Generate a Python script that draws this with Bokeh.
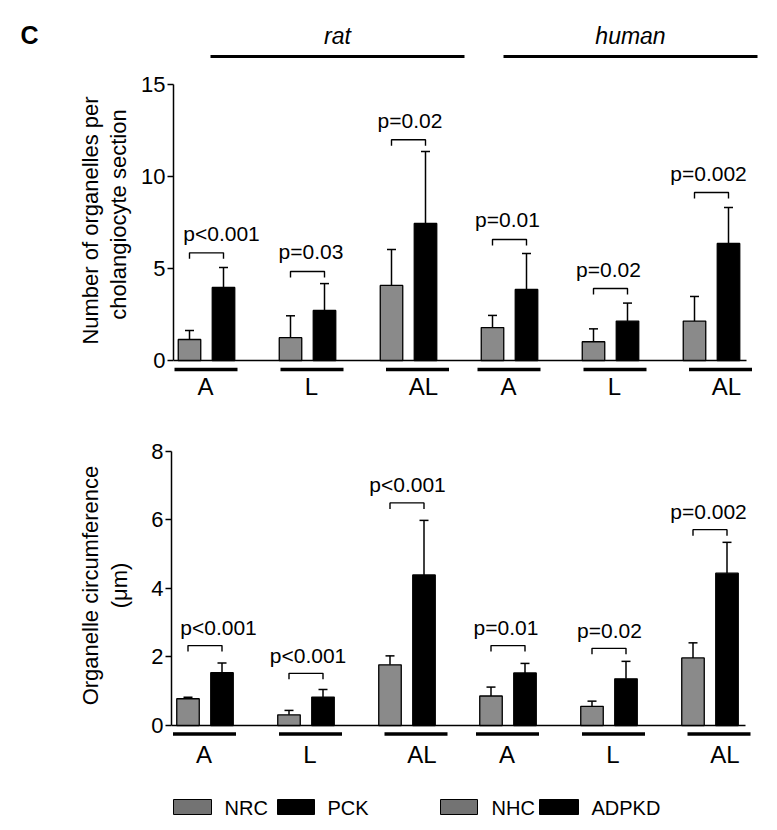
import numpy as np
from bokeh.plotting import figure
from bokeh.models import Range1d, FixedTicker, ColumnDataSource
from bokeh.layouts import column, row
from bokeh.embed import file_html
from bokeh.resources import INLINE
from bokeh.core.properties import value

# ---------------- data ----------------
group_labels = ["A", "L", "AL", "A", "L", "AL"]
species = ["rat", "human"]
legend_rat = ["NRC", "PCK"]
legend_human = ["NHC", "ADPKD"]
panel_letter = "C"

# number of organelles per cholangiocyte section
count_title = ["Number of organelles per", "cholangiocyte section"]
count_ctrl_mean = [1.14, 1.24, 4.08, 1.79, 1.02, 2.14]
count_ctrl_sd = [0.49, 1.19, 1.95, 0.66, 0.70, 1.34]
count_cyst_mean = [3.97, 2.72, 7.45, 3.86, 2.14, 6.36]
count_cyst_sd = [1.08, 1.46, 3.91, 1.95, 0.98, 1.96]
count_p = ["p<0.001", "p=0.03", "p=0.02", "p=0.01", "p=0.02", "p=0.002"]
count_bracket = [5.85, 4.84, 12.0, 6.58, 3.91, 9.13]
count_ticks = [0, 5, 10, 15]

# organelle circumference (um)
circ_title = ["Organelle circumference", "(\u03bcm)"]
circ_ctrl_mean = [0.78, 0.31, 1.77, 0.86, 0.56, 1.97]
circ_ctrl_sd = [0.04, 0.13, 0.26, 0.26, 0.15, 0.44]
circ_cyst_mean = [1.54, 0.83, 4.39, 1.53, 1.36, 4.44]
circ_cyst_sd = [0.28, 0.22, 1.59, 0.28, 0.51, 0.90]
circ_p = ["p<0.001", "p<0.001", "p<0.001", "p=0.01", "p=0.02", "p=0.002"]
circ_bracket = [2.33, 1.52, 6.49, 2.33, 2.25, 5.71]
circ_ticks = [0, 2, 4, 6, 8]

# ---------------- style / layout ----------------
FONT = "Liberation Sans"
TOTAL_W = 775
LW = 135                      # width of the left strip holding the y titles
GROUP_PX = 101.0
BAR_DX = 17.0 / GROUP_PX
BAR_W = 22.5 / GROUP_PX
GRAY = "#8a8a8a"
LEG_GRAY = "#737373"
UNDER_SHIFT = {"A": -0.5, "L": 4.5, "AL": 9.0}
LABEL_SHIFT = {"A": -1.0, "L": 4.0, "AL": 15.0}


def bare(fig):
    fig.outline_line_color = None
    fig.grid.visible = False
    fig.background_fill_color = "white"
    fig.border_fill_color = "white"
    return fig


def title_strip(top, bottom, lines, letter=None):
    """Left strip (pixel coordinates, y = -image_y) with the rotated y-axis title."""
    f = bare(figure(width=LW, height=bottom - top, output_backend="svg", toolbar_location=None,
                    x_range=Range1d(0, LW), y_range=Range1d(-bottom, -top),
                    x_axis_type=None, y_axis_type=None,
                    min_border_left=0, min_border_right=0, min_border_top=0, min_border_bottom=0))
    f.text(x=[x for _, x, _ in lines], y=[-y for _, _, y in lines], text=[t for t, _, _ in lines],
           angle=90, angle_units="deg",
           text_font=value(FONT), text_font_size="22px", text_color="black",
           text_align="center", text_baseline="middle")
    if letter:
        f.text(x=[29], y=[-34], text=[letter], text_font=value(FONT), text_font_size="25px",
               text_font_style="bold", text_color="black", text_align="center", text_baseline="middle")
    return f


def make_panel(top, bottom, axis_x, g0, zero, ppu, ticks, ctrl_m, ctrl_sd, cyst_m, cyst_sd,
               brk, ptxt, ptxt_dx, p_gap, base_end, under_y, lab_mid):
    k = GROUP_PX
    xd = lambda px: (px - g0) / k
    yd = lambda py: (zero - py) / ppu
    p = bare(figure(width=TOTAL_W - LW, height=bottom - top, output_backend="svg",
                    toolbar_location=None,
                    x_range=Range1d(xd(axis_x), xd(TOTAL_W)),
                    y_range=Range1d(yd(bottom), yd(top)),
                    x_axis_type=None,
                    min_border_left=axis_x - LW, min_border_right=0,
                    min_border_top=0, min_border_bottom=0))

    ax = p.yaxis[0]
    ax.ticker = FixedTicker(ticks=ticks)
    ax.bounds = (0, ticks[-1])
    ax.major_tick_out = 6
    ax.major_tick_in = 0
    ax.minor_tick_line_color = None
    ax.axis_line_width = 1.5
    ax.major_tick_line_width = 1.5
    ax.major_label_text_font = FONT
    ax.major_label_text_font_size = "22px"
    ax.major_label_text_color = "black"
    ax.major_label_standoff = 2

    idx = np.arange(len(ctrl_m))
    xc = idx - BAR_DX
    xb = idx + BAR_DX
    src = ColumnDataSource(dict(
        xc=xc, xb=xb,
        cm=ctrl_m, ce=np.array(ctrl_m) + np.array(ctrl_sd),
        bm=cyst_m, be=np.array(cyst_m) + np.array(cyst_sd)))

    # x baseline
    p.segment(x0=[xd(axis_x)], y0=[0], x1=[xd(base_end)], y1=[0], line_color="black", line_width=1.5)

    # error bars (upper only)
    p.segment(x0="xc", y0="cm", x1="xc", y1="ce", source=src, line_color="black", line_width=1.5)
    p.segment(x0="xb", y0="bm", x1="xb", y1="be", source=src, line_color="black", line_width=1.5)
    p.scatter(x="xc", y="ce", source=src, marker="dash", size=9, line_color="black", line_width=1.5)
    p.scatter(x="xb", y="be", source=src, marker="dash", size=9, line_color="black", line_width=1.5)

    # bars
    p.vbar(x="xc", top="cm", bottom=0, width=BAR_W, source=src,
           fill_color=GRAY, line_color="black", line_width=1.3)
    p.vbar(x="xb", top="bm", bottom=0, width=BAR_W, source=src,
           fill_color="black", line_color="black", line_width=1.3)

    # significance brackets
    tick = 6.0 / ppu
    xs = [[a, a, b, b] for a, b in zip(xc, xb)]
    ys = [[y - tick, y, y, y - tick] for y in brk]
    p.multi_line(xs=xs, ys=ys, line_color="black", line_width=1.4)
    p.text(x=idx + np.array(ptxt_dx) / k, y=np.array(brk) + p_gap / ppu, text=ptxt,
           text_font=value(FONT), text_font_size="21px", text_color="black",
           text_align="center", text_baseline="middle")

    # group underlines and labels
    us = np.array([UNDER_SHIFT[g] for g in group_labels])
    ls = np.array([LABEL_SHIFT[g] for g in group_labels])
    p.segment(x0=idx + (us - 31.5) / k, y0=[yd(under_y)] * 6,
              x1=idx + (us + 31.5) / k, y1=[yd(under_y)] * 6,
              line_color="black", line_width=3.5)
    p.text(x=idx + ls / k, y=[yd(lab_mid)] * 6, text=group_labels,
           text_font=value(FONT), text_font_size="24px", text_color="black",
           text_align="center", text_baseline="middle")
    return p, xd, yd


# ---- panel 1: organelle count ----
p1, xd1, yd1 = make_panel(
    top=0, bottom=400, axis_x=173, g0=206, zero=360, ppu=18.4, ticks=count_ticks,
    ctrl_m=count_ctrl_mean, ctrl_sd=count_ctrl_sd, cyst_m=count_cyst_mean, cyst_sd=count_cyst_sd,
    brk=count_bracket, ptxt=count_p, ptxt_dx=[15, 3.5, 1.5, -2, -2, -3], p_gap=19.5,
    base_end=746, under_y=369, lab_mid=385.5)

# header: species labels and lines
p1.text(x=[xd1(337), xd1(630)], y=[yd1(35)] * 2, text=species,
        text_font=value(FONT), text_font_size="23px", text_font_style="italic",
        text_color="black", text_align="center", text_baseline="middle")
p1.segment(x0=[xd1(210), xd1(503)], y0=[yd1(56)] * 2, x1=[xd1(464), xd1(757)], y1=[yd1(56)] * 2,
           line_color="black", line_width=3)

t1 = title_strip(0, 400, [(count_title[0], 89.5, 220), (count_title[1], 117.5, 214)], letter=panel_letter)

# ---- panel 2: organelle circumference ----
p2, xd2, yd2 = make_panel(
    top=400, bottom=772, axis_x=171, g0=204.5, zero=725, ppu=34.3, ticks=circ_ticks,
    ctrl_m=circ_ctrl_mean, ctrl_sd=circ_ctrl_sd, cyst_m=circ_cyst_mean, cyst_sd=circ_cyst_sd,
    brk=circ_bracket, ptxt=circ_p, ptxt_dx=[13.5, 2, 0.5, -2, 0.5, -1.5], p_gap=18,
    base_end=745, under_y=733.5, lab_mid=753.5)

t2 = title_strip(400, 772, [(circ_title[0], 89.5, 585), (circ_title[1], 118.5, 585)])

# ---- legend strip ----
leg = bare(figure(width=TOTAL_W, height=54, output_backend="svg", toolbar_location=None,
                  x_range=Range1d(0, TOTAL_W), y_range=Range1d(-826, -772),
                  x_axis_type=None, y_axis_type=None,
                  min_border_left=0, min_border_right=0, min_border_top=0, min_border_bottom=0))
leg_names = legend_rat + legend_human
leg.rect(x=[192, 295.5, 458.5, 558.5], y=-806.5, width=[38, 37, 37, 39], height=15,
         fill_color=[LEG_GRAY, "black", LEG_GRAY, "black"], line_color="black", line_width=1)
leg.text(x=[224, 327, 491, 591], y=[-807] * 4, text=leg_names,
         text_font=value(FONT), text_font_size="20px", text_color="black",
         text_align="left", text_baseline="middle")

layout = column(row(t1, p1, spacing=0), row(t2, p2, spacing=0), leg, spacing=0)
open("out.html", "w").write(file_html(layout, INLINE))
